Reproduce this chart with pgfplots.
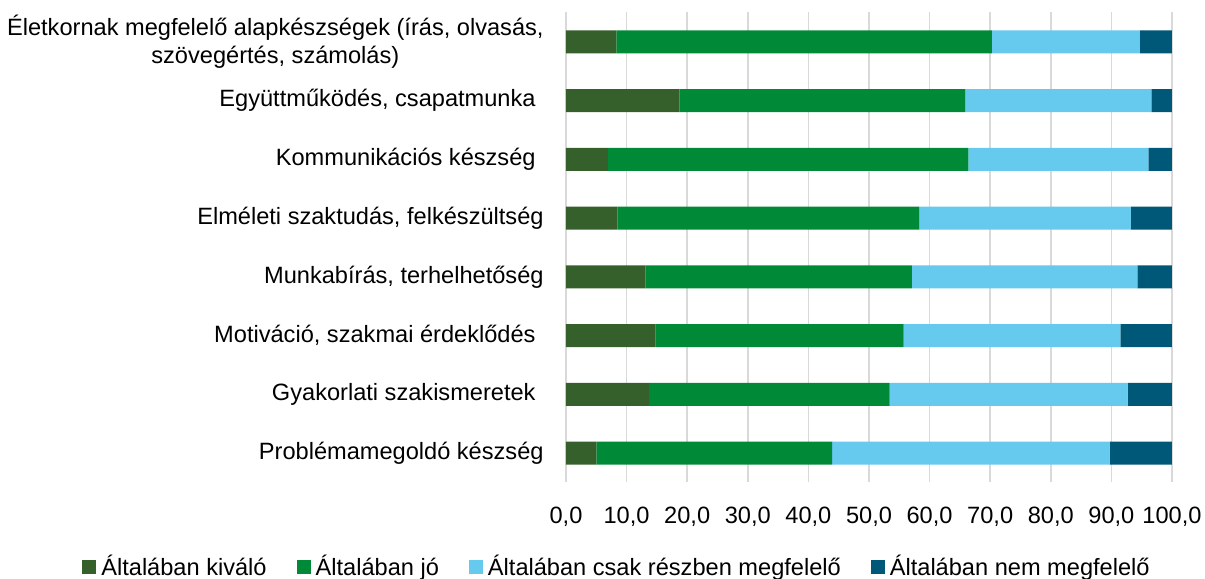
\documentclass[border=0pt]{standalone}
\usepackage{fontspec}
\setmainfont{Liberation Sans}
\usepackage{pgfplots}
\pgfplotsset{compat=1.18}
\definecolor{cA}{HTML}{35602B}
\definecolor{cB}{HTML}{008A37}
\definecolor{cC}{HTML}{66C9EE}
\definecolor{cD}{HTML}{005878}
\definecolor{gridc}{HTML}{D9D9D9}
\begin{document}
\begin{tikzpicture}[font=\fontsize{11.8}{14}\selectfont]
\begin{axis}[
  scale only axis, width=303pt, height=235pt,
  xbar stacked, bar width=11.5pt,
  xmin=0, xmax=100, ymin=-0.5, ymax=7.5,
  y dir=reverse,
  clip=false,
  axis line style={draw=none},
  major tick length=0pt,
  xmajorgrids, grid style={draw=gridc, line width=0.75pt},
  xtick={0,10,...,100},
  /pgf/number format/assume math mode=true,
  xticklabel style={/pgf/number format/fixed, /pgf/number format/fixed zerofill, /pgf/number format/precision=1, /pgf/number format/use comma, inner sep=0pt, yshift=-12pt},
  ytick={0,...,7},
  yticklabels={{Életkornak megfelelő alapkészségek (írás, olvasás,\\szövegértés, számolás)},
    {Együttműködés, csapatmunka\hspace*{4pt}},
    {Kommunikációs készség\hspace*{4pt}},
    {Elméleti szaktudás, felkészültség},
    {Munkabírás, terhelhetőség},
    {Motiváció, szakmai érdeklődés\hspace*{4pt}},
    {Gyakorlati szakismeretek\hspace*{4pt}},
    {Problémamegoldó készség}},
  yticklabel style={align=center, inner sep=0pt, xshift=-11pt},
  legend columns=4,
  legend style={at={(0.0825,-0.18)}, anchor=center, draw=none, fill=none, inner sep=0pt,
    nodes={inner sep=0pt, anchor=west},
    /tikz/every odd column/.append style={column sep=2.5pt},
    /tikz/every even column/.append style={column sep=15pt}},
  legend image code/.code={\fill[#1] (0pt,-3.5pt) rectangle (7pt,3.5pt);},
]
\addplot[fill=cA, draw=none] coordinates {(8.3,0) (18.7,1) (6.9,2) (8.5,3) (13.1,4) (14.8,5) (13.7,6) (5.0,7)};
\addplot[fill=cB, draw=none] coordinates {(62.0,0) (47.2,1) (59.5,2) (49.8,3) (44.0,4) (40.9,5) (39.7,6) (38.9,7)};
\addplot[fill=cC, draw=none] coordinates {(24.4,0) (30.7,1) (29.7,2) (34.9,3) (37.2,4) (35.8,5) (39.3,6) (45.8,7)};
\addplot[fill=cD, draw=none] coordinates {(5.3,0) (3.4,1) (3.9,2) (6.8,3) (5.7,4) (8.5,5) (7.3,6) (10.3,7)};
\legend{Általában kiváló, Általában jó, Általában csak részben megfelelő, Általában nem megfelelő}
\path (axis description cs:-0.934,1.0264) rectangle (axis description cs:1.0545,-0.2055);
\end{axis}
\end{tikzpicture}
\end{document}
